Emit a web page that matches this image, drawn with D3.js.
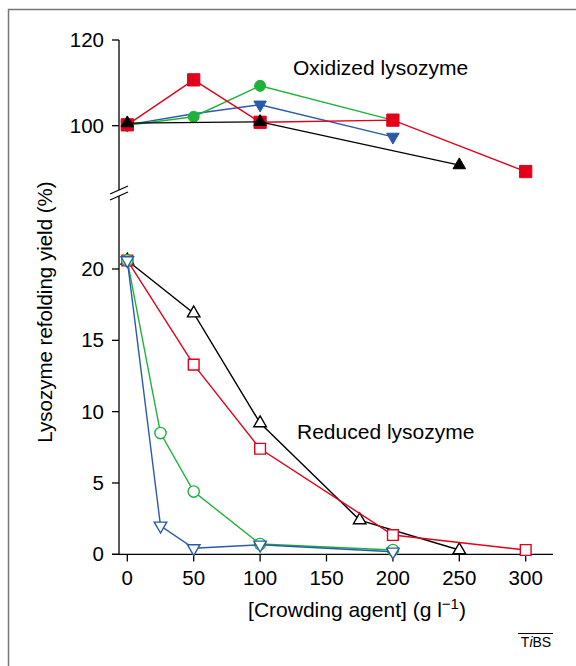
<!DOCTYPE html>
<html>
<head>
<meta charset="utf-8">
<script src="https://cdn.jsdelivr.net/npm/d3@7"></script>
<style>
  body { margin: 0; background: #fff; }
  text { font-family: "Liberation Sans", Arial, sans-serif; }
</style>
</head>
<body>
<div id="chart"></div>
<script>
// x values and yields
var xTicks = [0, 50, 100, 150, 200, 250, 300];
var upperTicks = [100, 120];
var lowerTicks = [0, 5, 10, 15, 20];

// oxidized lysozyme (filled symbols)
var oxRedX = [0, 50, 100, 200, 300];
var oxRedY = [100.2, 110.7, 100.8, 101.3, 89.3];
var oxGreenX = [0, 50, 100, 200];
var oxGreenY = [100.1, 102.1, 109.3, 101.3];
var oxBlueX = [0, 50, 100, 200];
var oxBlueY = [100.2, 102.8, 104.9, 97.4];
var oxBlueMark = [true, false, true, true];
var oxBlackX = [0, 100, 250];
var oxBlackY = [100.6, 100.9, 90.8];

// reduced lysozyme (open symbols)
var redBlackX = [0, 50, 100, 175, 250];
var redBlackY = [20.6, 16.9, 9.2, 2.4, 0.3];
var redRedX = [0, 50, 100, 200, 300];
var redRedY = [20.6, 13.3, 7.4, 1.35, 0.3];
var redGreenX = [0, 25, 50, 100, 200];
var redGreenY = [20.6, 8.5, 4.4, 0.72, 0.3];
var redBlueX = [0, 25, 50, 100, 200];
var redBlueY = [20.6, 2.0, 0.42, 0.67, 0.18];

var red = "#e2001a", green = "#1db33a", blue = "#2a5aa8", black = "#000";

var svg = d3.select("#chart").append("svg")
  .attr("width", 576).attr("height", 666);

// frame (only top and left edges show)
svg.append("path")
  .attr("d", "M8.5,666 V9.5 H576")
  .attr("fill", "none").attr("stroke", "#777").attr("stroke-width", 1.5);

var x = d3.scaleLinear().domain([0, 300]).range([127.3, 525.7]);
var yUp = d3.scaleLinear().domain([100, 120]).range([125.7, 40]);
var yLow = d3.scaleLinear().domain([0, 20]).range([554.3, 269]);

var axisX = 119;

// y axis, broken
svg.append("line").attr("x1", axisX).attr("x2", axisX)
  .attr("y1", 40).attr("y2", 190).attr("stroke", "#000").attr("stroke-width", 1.3);
svg.append("line").attr("x1", axisX).attr("x2", axisX)
  .attr("y1", 196).attr("y2", 554.3).attr("stroke", "#000").attr("stroke-width", 1.3);
[190, 196].forEach(function(b) {
  svg.append("line").attr("x1", 110).attr("x2", 128)
    .attr("y1", b + 4).attr("y2", b - 4)
    .attr("stroke", "#000").attr("stroke-width", 1.3);
});

function yTicks(vals, scale) {
  var g = svg.append("g");
  g.selectAll("line").data(vals).enter().append("line")
    .attr("x1", axisX - 7).attr("x2", axisX)
    .attr("y1", function(d) { return scale(d); })
    .attr("y2", function(d) { return scale(d); })
    .attr("stroke", "#000").attr("stroke-width", 1.3);
  g.selectAll("text").data(vals).enter().append("text")
    .attr("x", axisX - 15)
    .attr("y", function(d) { return scale(d) + 7; })
    .attr("text-anchor", "end")
    .attr("font-size", "20.5px")
    .text(function(d) { return d; });
}
yTicks(upperTicks, yUp);
yTicks(lowerTicks, yLow);

// x axis
svg.append("line").attr("x1", 112).attr("x2", 553)
  .attr("y1", 554.3).attr("y2", 554.3).attr("stroke", "#000").attr("stroke-width", 1.3);
var gx = svg.append("g");
gx.selectAll("line").data(xTicks).enter().append("line")
  .attr("x1", function(d) { return x(d); })
  .attr("x2", function(d) { return x(d); })
  .attr("y1", 554.3).attr("y2", 561.5)
  .attr("stroke", "#000").attr("stroke-width", 1.3);
gx.selectAll("text").data(xTicks).enter().append("text")
  .attr("x", function(d) { return x(d); })
  .attr("y", 585)
  .attr("text-anchor", "middle")
  .attr("font-size", "20.5px")
  .text(function(d) { return d; });

// axis titles
var xt = svg.append("text").attr("x", 357).attr("y", 617)
  .attr("text-anchor", "middle").attr("font-size", "21px");
xt.append("tspan").text("[Crowding agent] (g l");
xt.append("tspan").attr("dy", -8).attr("font-size", "15px").text("\u22121");
xt.append("tspan").attr("dy", 8).text(")");

svg.append("text")
  .attr("transform", "translate(52,312) rotate(-90)")
  .attr("text-anchor", "middle").attr("font-size", "20.5px")
  .text("Lysozyme refolding yield (%)");

svg.append("text").attr("x", 293).attr("y", 75).attr("font-size", "21px")
  .text("Oxidized lysozyme");
svg.append("text").attr("x", 297).attr("y", 439).attr("font-size", "21px")
  .text("Reduced lysozyme");

// TiBS mark
var tb = svg.append("text").attr("x", 536).attr("y", 647)
  .attr("text-anchor", "middle").attr("font-size", "14px");
tb.append("tspan").text("T");
tb.append("tspan").attr("font-style", "italic").text("i");
tb.append("tspan").text("BS");
svg.append("line").attr("x1", 518).attr("x2", 553)
  .attr("y1", 633.5).attr("y2", 633.5).attr("stroke", "#000").attr("stroke-width", 1);

var line = d3.line();

function series(xs, ys, scale, color, shape, filled, marks) {
  var pts = xs.map(function(v, i) { return [x(v), scale(ys[i])]; });
  svg.append("path").attr("d", line(pts))
    .attr("fill", "none").attr("stroke", color).attr("stroke-width", 1.4);
  var s;
  if (shape === "square") s = d3.symbol().type(d3.symbolSquare).size(filled ? 150 : 115);
  else if (shape === "circle") s = d3.symbol().type(d3.symbolCircle).size(filled ? 95 : 100);
  else s = d3.symbol().type(d3.symbolTriangle).size(68);
  pts.forEach(function(p, i) {
    if (marks && !marks[i]) return;
    var rot = shape === "down" ? " rotate(180)" : "";
    svg.append("path").attr("d", s())
      .attr("transform", "translate(" + p[0] + "," + p[1] + ")" + rot)
      .attr("fill", filled ? color : "#fff")
      .attr("stroke", color).attr("stroke-width", filled ? 1 : 1.4);
  });
}

// oxidized
series(oxBlueX, oxBlueY, yUp, blue, "down", true, oxBlueMark);
series(oxGreenX, oxGreenY, yUp, green, "circle", true);
series(oxRedX, oxRedY, yUp, red, "square", true);
series(oxBlackX, oxBlackY, yUp, black, "up", true);

// reduced
series(redBlackX, redBlackY, yLow, black, "up", false);
series(redRedX, redRedY, yLow, red, "square", false);
series(redGreenX, redGreenY, yLow, green, "circle", false);
series(redBlueX, redBlueY, yLow, blue, "down", false);
</script>
</body>
</html>
